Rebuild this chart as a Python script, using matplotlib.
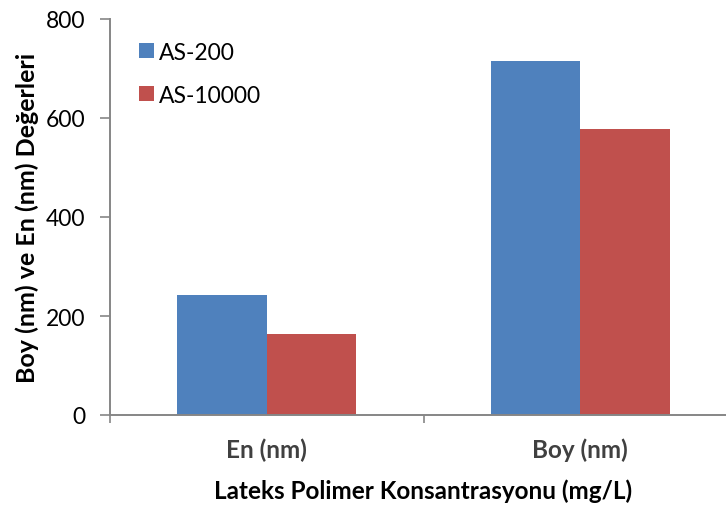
import matplotlib
matplotlib.use("Agg")
import matplotlib.pyplot as plt
from matplotlib.patches import Patch
import numpy as np

categories = ["En (nm)", "Boy (nm)"]
series_names = ["AS-200", "AS-10000"]
as200 = [242, 716]
as10000 = [163, 578]
yticks = [0, 200, 400, 600, 800]

blue = "#4F81BD"
red = "#C0504D"
axis_gray = "#868686"

plt.rcParams["font.family"] = ["Lato", "DejaVu Sans"]

W, H = 726, 506
fig = plt.figure(figsize=(W / 100, H / 100), dpi=100)
ax = fig.add_axes([110 / W, 1 - 416 / H, (737 - 110) / W, (416 - 20) / H])

x = np.arange(len(categories))
bw = 0.285
ax.bar(x - bw / 2, as200, width=bw, color=blue, label=series_names[0], zorder=2)
ax.bar(x + bw / 2, as10000, width=bw, color=red, label=series_names[1], zorder=2)

ax.set_xlim(-0.5, 1.5)
ax.set_ylim(0, 800)
ax.set_yticks(yticks)
ax.set_yticklabels([str(t) for t in yticks], fontsize=16.5, color="black")
ax.tick_params(axis="y", length=7.2, width=1.2, color=axis_gray, pad=10.5)

# category labels, with boundary ticks on the x axis
ax.set_xticks(x)
ax.set_xticklabels(categories, fontsize=17.5, fontweight="bold", color="#404040")
ax.tick_params(axis="x", length=0, pad=16)
ax.set_xticks([-0.5, 0.5, 1.5], minor=True)
ax.tick_params(axis="x", which="minor", length=6, width=1.2, color=axis_gray)

for side in ["top", "right"]:
    ax.spines[side].set_visible(False)
for side in ["left", "bottom"]:
    ax.spines[side].set_color(axis_gray)
    ax.spines[side].set_linewidth(1.4)

ax.set_ylabel("Boy (nm) ve En (nm) Değerleri", fontsize=18, fontweight="bold", labelpad=5)
ax.set_xlabel("Lateks Polimer Konsantrasyonu (mg/L)", fontsize=17.5, fontweight="bold", labelpad=13)

handles = [Patch(facecolor=blue), Patch(facecolor=red)]
ax.legend(handles, series_names, loc="upper left", bbox_to_anchor=(0.02, 0.983),
          frameon=False, fontsize=16.5, handlelength=0.66, handleheight=0.66,
          handletextpad=0.22, labelspacing=0.95, borderpad=0.2)

fig.savefig("out.png", dpi=100)
